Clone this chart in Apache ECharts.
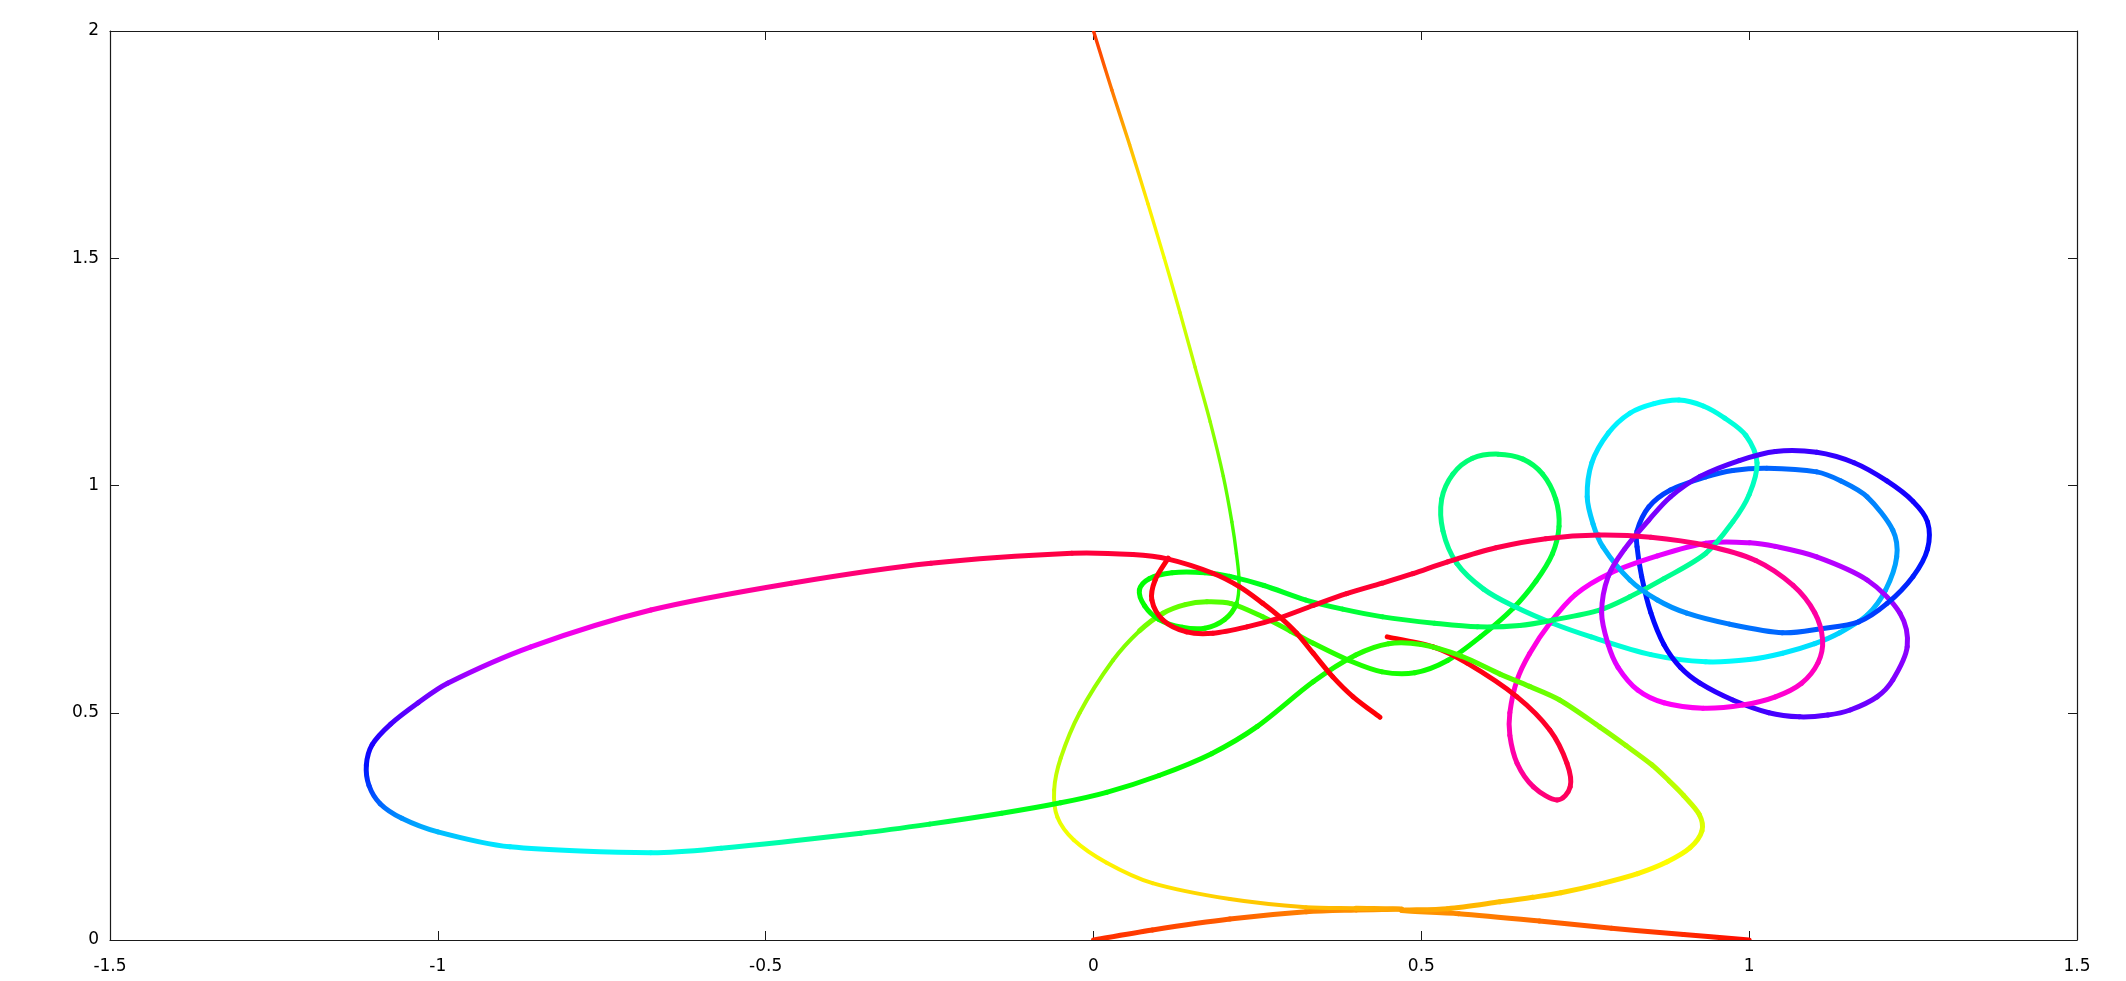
<!DOCTYPE html>
<html><head><meta charset="utf-8">
<script src="https://cdn.jsdelivr.net/npm/echarts/dist/echarts.min.js"></script>
<style>html,body{margin:0;padding:0;background:#fff}#c{width:2126px;height:981px}</style>
</head><body><div id="c"></div>
<script>
// Axis setup
const xRange = [-1.5, 1.5];
const yRange = [0, 2];
const tickStep = 0.5;

// Traced trajectories: [x, y, hue (deg)]
const bodyA = [
[0.000,0.000,10],[0.090,0.022,15],[0.208,0.046,22],[0.324,0.062,30],[0.400,0.066,34],[0.470,0.068,38],
[0.400,0.070,42],[0.324,0.072,45],[0.208,0.090,48],[0.090,0.125,54],[0.020,0.170,57],[-0.030,0.220,62],
[-0.055,0.270,66],[-0.060,0.330,72],[-0.050,0.400,77],[-0.021,0.500,82],[0.030,0.616,88],[0.070,0.680,92],
[0.106,0.719,95],[0.140,0.738,97],[0.173,0.744,100],[0.210,0.740,102],[0.258,0.711,105],[0.300,0.680,107],
[0.335,0.653,109],[0.390,0.615,112],[0.440,0.590,114],[0.490,0.588,116],[0.540,0.615,119],[0.590,0.667,122],
[0.640,0.730,126],[0.675,0.790,129],[0.700,0.850,132],[0.710,0.910,135],[0.705,0.970,138],[0.685,1.025,141],
[0.655,1.058,143],[0.617,1.069,145],[0.578,1.060,147],[0.548,1.025,149],[0.531,0.970,151],[0.533,0.900,153],
[0.554,0.829,155],[0.595,0.772,158],[0.643,0.733,161],[0.700,0.697,165],[0.759,0.667,168],[0.850,0.628,173],
[0.934,0.612,178],[1.000,0.617,182],[1.051,0.631,185],[1.100,0.652,188],[1.138,0.676,191],[1.180,0.715,195],
[1.208,0.770,199],[1.225,0.843,203],[1.219,0.902,206],[1.180,0.975,210],[1.140,1.010,212],[1.103,1.030,214],
[1.027,1.038,217],[0.975,1.033,219],[0.934,1.019,221],[0.880,0.990,224],[0.847,0.953,226],[0.829,0.900,228],
[0.829,0.865,230],[0.836,0.800,233],[0.850,0.720,237],[0.870,0.650,241],[0.895,0.600,245],[0.925,0.565,248],
[0.975,0.528,252],[1.030,0.500,256],[1.077,0.491,259],[1.120,0.495,262],[1.154,0.506,264],[1.195,0.535,267],
[1.219,0.572,270],[1.241,0.645,273],[1.230,0.719,276],[1.180,0.792,280],[1.103,0.843,284],[1.040,0.866,287],
[1.001,0.874,289],[0.934,0.873,292],[0.860,0.845,295],[0.788,0.807,298],[0.735,0.760,301],[0.696,0.697,304],
[0.665,0.630,308],[0.646,0.572,311],[0.635,0.500,315],[0.635,0.450,318],[0.646,0.389,322],[0.671,0.337,328],
[0.707,0.308,335],[0.727,0.337,341],[0.722,0.389,346],[0.696,0.462,350],[0.646,0.535,353],[0.570,0.609,356],
[0.518,0.645,357],[0.448,0.667,359]
];
const bodyB = [
[1.000,0.000,2],[0.900,0.012,10],[0.790,0.026,18],[0.680,0.042,25],[0.557,0.058,32],[0.470,0.065,37],
[0.540,0.069,41],[0.620,0.084,45],[0.670,0.094,48],[0.713,0.104,50],[0.772,0.123,53],[0.830,0.146,57],
[0.875,0.172,60],[0.910,0.203,63],[0.928,0.240,67],[0.924,0.276,71],[0.900,0.318,74],[0.878,0.350,77],
[0.852,0.385,80],[0.812,0.428,84],[0.772,0.469,88],[0.711,0.528,93],[0.665,0.558,97],[0.620,0.585,100],
[0.560,0.625,104],[0.500,0.650,107],[0.450,0.652,110],[0.400,0.627,112],[0.335,0.568,115],[0.250,0.470,117],
[0.180,0.410,118],[0.100,0.362,119],[0.020,0.325,121],[-0.050,0.302,124],[-0.140,0.279,128],[-0.250,0.255,138],
[-0.355,0.235,148],[-0.568,0.202,168],[-0.675,0.192,176],[-0.890,0.205,184],[-1.000,0.238,196],[-1.055,0.268,206],
[-1.088,0.300,216],[-1.105,0.340,226],[-1.109,0.385,236],[-1.100,0.430,246],[-1.072,0.475,256],[-1.030,0.522,264],
[-0.985,0.565,272],[-0.858,0.645,295],[-0.675,0.726,314],[-0.461,0.785,328],[-0.248,0.829,338],[-0.033,0.851,345],
[0.060,0.848,348],[0.114,0.838,352],[0.182,0.807,354],[0.223,0.777,355],[0.258,0.741,356],[0.284,0.711,356],
[0.310,0.675,357],[0.335,0.631,357],[0.365,0.579,358],[0.396,0.535,358],[0.437,0.490,359]
];
const bodyC = [
[0.000,2.000,12],[0.028,1.870,28],[0.055,1.750,44],[0.083,1.620,56],[0.108,1.500,63],[0.132,1.380,70],
[0.155,1.260,77],[0.178,1.140,86],[0.198,1.020,95],[0.211,0.920,102],[0.218,0.850,107],[0.222,0.790,110],
[0.218,0.740,112],[0.200,0.705,114],[0.170,0.686,116],[0.135,0.688,117],[0.100,0.705,118],[0.078,0.735,119],
[0.070,0.770,120],[0.085,0.795,121],[0.120,0.808,122],[0.170,0.808,124],[0.208,0.800,125],[0.260,0.780,127],
[0.324,0.748,130],[0.380,0.728,132],[0.441,0.711,134],[0.520,0.697,137],[0.586,0.689,140],[0.650,0.692,142],
[0.701,0.704,144],[0.772,0.726,147],[0.818,0.755,150],[0.870,0.795,153],[0.934,0.851,157],[0.975,0.920,161],
[1.000,0.980,164],[1.012,1.050,167],[0.995,1.110,170],[0.963,1.148,172],[0.930,1.175,175],[0.893,1.188,177],
[0.855,1.180,180],[0.818,1.159,182],[0.785,1.115,184],[0.760,1.050,187],[0.753,0.975,190],[0.762,0.915,193],
[0.777,0.865,196],[0.818,0.792,200],[0.860,0.748,204],[0.905,0.719,208],[0.970,0.695,212],[1.051,0.676,216],
[1.110,0.685,220],[1.167,0.700,224],[1.210,0.740,228],[1.250,0.800,233],[1.272,0.860,237],[1.272,0.920,241],
[1.250,0.965,244],[1.210,1.010,247],[1.160,1.050,250],[1.103,1.073,253],[1.040,1.075,256],[0.985,1.055,259],
[0.925,1.020,262],[0.880,0.975,266],[0.847,0.924,270],[0.810,0.860,275],[0.785,0.800,280],[0.775,0.720,285],
[0.785,0.650,290],[0.800,0.600,294],[0.830,0.550,298],[0.870,0.522,301],[0.930,0.510,304],[0.990,0.517,307],
[1.040,0.535,310],[1.080,0.565,313],[1.105,0.610,316],[1.112,0.660,319],[1.100,0.720,322],[1.067,0.780,325],
[1.010,0.835,328],[0.934,0.868,332],[0.850,0.886,335],[0.771,0.891,338],[0.690,0.883,341],[0.614,0.863,343],
[0.540,0.832,345],[0.487,0.806,347],[0.440,0.785,348],[0.386,0.762,349],[0.335,0.736,350],[0.284,0.709,351],
[0.234,0.689,352],[0.182,0.675,353],[0.142,0.678,354],[0.106,0.704,355],[0.089,0.748,356],[0.094,0.792,357],
[0.114,0.840,358]
];

// Styles (line widths by segment range)
const BASE_W = 5.0;
const thinRanges = { A: [[6, 17, 4.0]], B: [], C: [[0, 12, 3.4]] };

function hsl(h){ h = ((h % 360) + 360) % 360; return 'hsl(' + h.toFixed(1) + ',100%,50%)'; }

function makeSeries(pts, key){
  const widthOf = i => { for (const r of thinRanges[key]) if (i >= r[0] && i < r[1]) return r[2]; return BASE_W; };
  const n = pts.length;
  const at = k => pts[Math.max(0, Math.min(n - 1, k))];
  return {
    type: 'custom', name: key, coordinateSystem: 'cartesian2d', clip: true,
    xAxisIndex: 0, yAxisIndex: 0, silent: true, animation: false,
    data: pts.slice(0, -1).map((p, i) => [p[0], p[1], i]),
    encode: { x: 0, y: 1 },
    renderItem: function (params, api) {
      const i = api.value(2);
      const c = k => { const p = at(k); return api.coord([p[0], p[1]]); };
      const p0 = c(i - 1), p1 = c(i), p2 = c(i + 1), p3 = c(i + 2);
      const dist = (a, b) => Math.hypot(b[0] - a[0], b[1] - a[1]);
      const d = dist(p1, p2);
      const tan = (a, b) => { const L = dist(a, b) || 1; return [(b[0] - a[0]) / L, (b[1] - a[1]) / L, L]; };
      const t1 = tan(p0, p2), t2 = tan(p1, p3);
      const m1 = Math.min(d / 3, t1[2] / 6), m2 = Math.min(d / 3, t2[2] / 6);
      const c1 = [p1[0] + t1[0] * m1, p1[1] + t1[1] * m1];
      const c2 = [p2[0] - t2[0] * m2, p2[1] - t2[1] * m2];
      const h1 = pts[i][2], h2 = pts[i + 1][2];
      const grad = new echarts.graphic.LinearGradient(p1[0], p1[1], p2[0] + 0.01, p2[1] + 0.01,
        [{ offset: 0, color: hsl(h1) }, { offset: 1, color: hsl(h2) }], true);
      return {
        type: 'bezierCurve',
        shape: { x1: p1[0], y1: p1[1], x2: p2[0], y2: p2[1], cpx1: c1[0], cpy1: c1[1], cpx2: c2[0], cpy2: c2[1] },
        style: { fill: null, stroke: grad, lineWidth: widthOf(i), lineCap: 'round', lineJoin: 'round' }
      };
    }
  };
}

const labelFont = { fontFamily: 'DejaVu Sans', fontSize: 17, color: '#000' };
const axisLineStyle = { color: '#1a1a1a', width: 1.2 };
function xAx(pos, showLabel){
  return { type: 'value', position: pos, min: xRange[0], max: xRange[1], interval: tickStep,
    axisLine: { show: true, onZero: false, lineStyle: axisLineStyle },
    axisTick: { show: true, inside: true, length: 9, lineStyle: { color: '#1a1a1a', width: 1 } },
    axisLabel: Object.assign({ show: showLabel, margin: 18 }, labelFont),
    splitLine: { show: false } };
}
function yAx(pos, showLabel){
  return { type: 'value', position: pos, min: yRange[0], max: yRange[1], interval: tickStep,
    axisLine: { show: true, onZero: false, lineStyle: axisLineStyle },
    axisTick: { show: true, inside: true, length: 9, lineStyle: { color: '#1a1a1a', width: 1 } },
    axisLabel: Object.assign({ show: showLabel, margin: 11 }, labelFont),
    splitLine: { show: false } };
}

const chart = echarts.init(document.getElementById('c'), null, { renderer: 'canvas' });
chart.setOption({
  backgroundColor: '#fff',
  animation: false,
  grid: { left: 110, right: 49, top: 31, bottom: 41, containLabel: false },
  xAxis: [xAx('bottom', true), xAx('top', false)],
  yAxis: [yAx('left', true), yAx('right', false)],
  series: [makeSeries(bodyA, 'A'), makeSeries(bodyC, 'C'), makeSeries(bodyB, 'B')]
});
</script>
</body></html>
